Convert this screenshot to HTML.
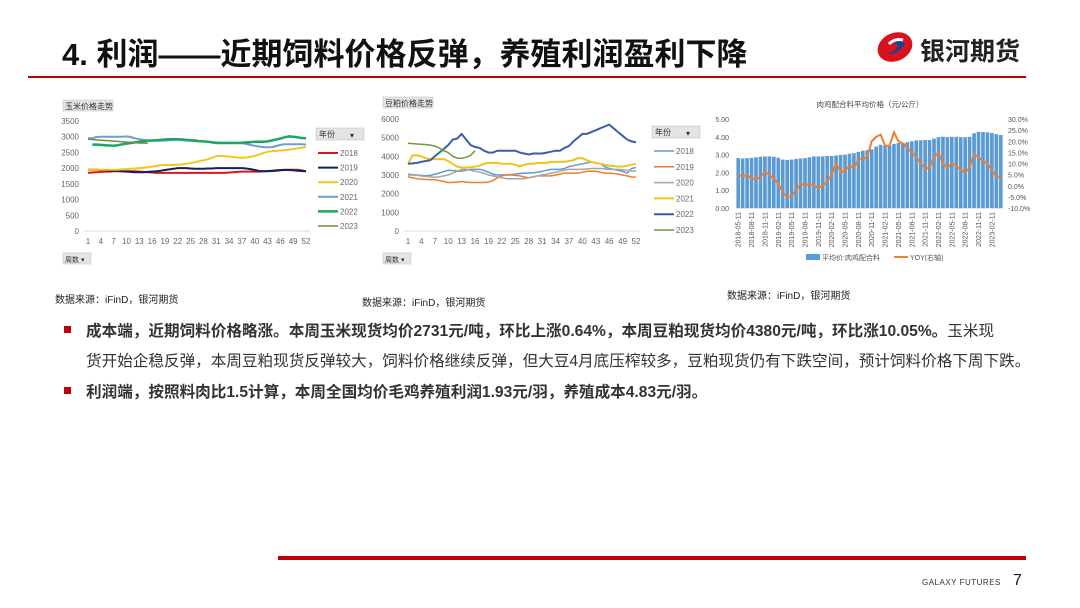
<!DOCTYPE html>
<html><head><meta charset="utf-8">
<style>
body{margin:0;width:1080px;height:608px;overflow:hidden;background:#fff;font-family:"Liberation Sans","Noto Sans CJK SC",sans-serif;position:relative}
.abs{position:absolute}
#title{left:62px;top:29px;font-size:31px;font-weight:bold;color:#111;white-space:nowrap}
.src{font-size:10px;color:#222;white-space:nowrap}
.bul{left:86px;font-size:15.6px;color:#333;white-space:nowrap}
.sq{width:7px;height:7px;background:#c00000;left:64px}
</style></head><body>
<div id="title" class="abs">4. 利润——近期饲料价格反弹，养殖利润盈利下降</div>
<div class="abs" style="left:875px;top:30px;width:40px;height:34px">
<svg width="40" height="34" viewBox="0 0 40 34"><ellipse cx="20" cy="17" rx="18" ry="14" fill="#d7141e" transform="rotate(-25 20 17)"/><path d="M10 22 Q20 28 30 14 Q25 8 17 12 Q26 14 20 20 Q14 24 10 22Z" fill="#1c3f94"/><path d="M14 14 Q20 8 28 10" stroke="#fff" stroke-width="3" fill="none"/></svg></div>
<div class="abs" style="left:920px;top:32px;font-size:25px;font-weight:bold;color:#222">银河期货</div>
<div class="abs" style="left:28px;top:76px;width:998px;height:2px;background:#c00000"></div>
<div class="abs" style="left:278px;top:556px;width:748px;height:4px;background:#c00000"></div>
<div class="abs" style="left:922px;top:578px;font-size:8px;color:#333;letter-spacing:0.5px">GALAXY FUTURES</div>
<div class="abs" style="left:1013px;top:572px;font-size:16px;color:#222">7</div>

<svg id="charts" class="abs" style="left:0;top:0" width="1080" height="300"></svg>

<div class="abs src" style="left:55px;top:291px">数据来源：iFinD，银河期货</div>
<div class="abs src" style="left:362px;top:294px">数据来源：iFinD，银河期货</div>
<div class="abs src" style="left:727px;top:287px">数据来源：iFinD，银河期货</div>

<div class="abs sq" style="top:326px"></div>
<div class="abs bul" style="top:319px"><b>成本端，近期饲料价格略涨。本周玉米现货均价2731元/吨，环比上涨0.64%，本周豆粕现货均价4380元/吨，环比涨10.05%。</b>玉米现</div>
<div class="abs bul" style="top:349px">货开始企稳反弹，本周豆粕现货反弹较大，饲料价格继续反弹，但大豆4月底压榨较多，豆粕现货仍有下跌空间，预计饲料价格下周下跌。</div>
<div class="abs sq" style="top:387px"></div>
<div class="abs bul" style="top:380px"><b>利润端，按照料肉比1.5计算，本周全国均价毛鸡养殖利润1.93元/羽，养殖成本4.83元/羽。</b></div>

<script>
const weeks = Array.from({length:52},(_,i)=>i+1);
const cornYears = ['2018','2019','2020','2021','2022','2023'];
const corn2018 = [1850,1860,1870,1880,1890,1890,1900,1900,1900,1900,1900,1900,1890,1880,1870,1860,1850,1850,1850,1850,1850,1850,1850,1850,1850,1850,1850,1850,1850,1850,1850,1850,1850,1860,1870,1880,1890,1890,1890,1890,1890,1900,1910,1920,1930,1940,1950,1950,1950,1950,1930,1900];
const corn2019 = [1950,1950,1950,1940,1930,1920,1920,1910,1900,1890,1880,1870,1870,1870,1880,1890,1900,1920,1940,1960,1980,2000,2000,2000,1990,1980,1980,1980,1990,1990,2000,2000,2000,2000,2000,2000,2000,1990,1970,1940,1910,1900,1900,1910,1920,1930,1940,1940,1930,1920,1910,1900];
const corn2020 = [1950,1950,1950,1950,1950,1950,1950,1950,1960,1970,1980,1990,2000,2010,2030,2050,2070,2090,2100,2100,2100,2110,2120,2140,2160,2190,2220,2250,2280,2330,2380,2390,2380,2370,2350,2340,2330,2340,2360,2390,2430,2480,2520,2540,2550,2560,2570,2590,2610,2630,2650,2670];
const corn2021 = [2950,2950,2990,3000,3000,3000,3000,3000,3000,3010,2990,2950,2920,2900,2880,2870,2870,2870,2880,2890,2900,2900,2890,2880,2870,2860,2850,2850,2840,2830,2820,2810,2810,2810,2810,2800,2790,2770,2740,2710,2690,2670,2660,2670,2700,2740,2760,2760,2760,2760,2760,2750];
const corn2022 = [null,2750,2750,2740,2730,2720,2710,2730,2760,2780,2800,2820,2840,2860,2870,2880,2890,2900,2910,2920,2920,2920,2910,2900,2890,2880,2860,2850,2840,2820,2800,2800,2800,2800,2800,2800,2810,2820,2830,2840,2840,2840,2850,2880,2910,2940,2980,3010,3000,2980,2960,2950];
const corn2023 = [2920,2910,2900,2890,2880,2870,2860,2850,2840,2830,2820,2810,2800,2800,2790,null,null,null,null,null,null,null,null,null,null,null,null,null,null,null,null,null,null,null,null,null,null,null,null,null,null,null,null,null,null,null,null,null,null,null,null,null];
const cornTicks = [0,500,1000,1500,2000,2500,3000,3500];
const mealYears = ['2018','2019','2020','2021','2022','2023'];
const meal2018 = [3050,3020,3000,2980,2960,2980,3050,3100,3180,3250,3240,3220,3200,3250,3300,3300,3300,3250,3150,3050,3000,3000,3000,3020,3050,3080,3100,3100,3120,3150,3200,3250,3300,3300,3300,3350,3450,3500,3550,3600,3650,3700,3650,3600,3450,3350,3300,3250,3200,3100,3350,3400];
const meal2019 = [2900,2850,2800,2780,2760,2750,2750,2700,2650,2600,2600,2620,2650,2620,2600,2600,2600,2600,2620,2700,2850,2950,3000,3000,2980,2950,2900,2850,2900,2950,2950,2950,2950,3000,3050,3100,3100,3100,3100,3150,3200,3200,3200,3150,3100,3100,3080,3050,3000,2950,2900,2880];
const meal2020 = [3000,3000,2980,2950,2920,2900,2880,2900,2950,3000,3100,3200,3300,3300,3250,3200,3150,3100,3000,2950,2900,2850,2800,2800,2800,2800,2800,2850,2900,2950,3000,3050,3100,3150,3200,3250,3300,3300,3300,3300,3320,3350,3350,3350,3330,3300,3300,3300,3280,3250,3220,3200];
const meal2021 = [3600,4050,4050,4000,3900,3850,3850,3850,3850,3750,3600,3450,3400,3400,3420,3450,3500,3600,3650,3650,3650,3600,3600,3600,3550,3450,3550,3600,3600,3650,3650,3650,3700,3700,3700,3700,3750,3800,3900,3900,3800,3700,3650,3600,3550,3500,3480,3450,3450,3500,3550,3600];
const meal2022 = [3600,3620,3650,3700,3750,3800,4000,4200,4400,4600,4900,4950,5200,4900,4600,4500,4450,4300,4200,4200,4300,4300,4300,4300,4300,4200,4150,4100,4150,4150,4150,4200,4250,4300,4300,4450,4550,4800,5000,5200,5200,5300,5400,5500,5600,5700,5500,5300,5100,4900,4800,4750];
const meal2023 = [4700,4680,4660,4650,4630,4600,4550,4450,4300,4200,4000,3900,3900,3950,4050,4300,null,null,null,null,null,null,null,null,null,null,null,null,null,null,null,null,null,null,null,null,null,null,null,null,null,null,null,null,null,null,null,null,null,null,null,null];
const mealTicks = [0,1000,2000,3000,4000,5000,6000];
const feedMonths = ['2018-05','2018-06','2018-07','2018-08','2018-09','2018-10','2018-11','2018-12','2019-01','2019-02','2019-03','2019-04','2019-05','2019-06','2019-07','2019-08','2019-09','2019-10','2019-11','2019-12','2020-01','2020-02','2020-03','2020-04','2020-05','2020-06','2020-07','2020-08','2020-09','2020-10','2020-11','2020-12','2021-01','2021-02','2021-03','2021-04','2021-05','2021-06','2021-07','2021-08','2021-09','2021-10','2021-11','2021-12','2022-01','2022-02','2022-03','2022-04','2022-05','2022-06','2022-07','2022-08','2022-09','2022-10','2022-11','2022-12','2023-01','2023-02','2023-03','2023-04'];
const feedPrice = [2.80,2.78,2.80,2.82,2.85,2.88,2.90,2.90,2.88,2.82,2.72,2.70,2.72,2.76,2.78,2.80,2.85,2.90,2.90,2.90,2.92,2.92,2.95,2.98,3.00,3.05,3.08,3.15,3.22,3.25,3.30,3.45,3.55,3.50,3.50,3.60,3.65,3.65,3.70,3.75,3.80,3.80,3.82,3.82,3.90,3.98,4.00,3.98,4.00,4.00,3.98,3.98,4.00,4.20,4.28,4.27,4.25,4.22,4.15,4.10];
const feedYoY = [5,4,5,3,3,4,6,5,3,1,-3,-5,-5,-2,1,0,1,0,-1,0,2,5,10,6,7,9,8,12,12,13,20,22,23,18,18,24,20,19,17,15,13,10,8,8,13,15,10,8,10,9,7,6,8,14,13,11,10,7,4,4];
const feedLeftTicks = [0,1,2,3,4,5];
const feedRightTicks = [-10,-5,0,5,10,15,20,25,30];

const NS='http://www.w3.org/2000/svg';
const svg=document.getElementById('charts');
function mk(tag,attrs,parent){const e=document.createElementNS(NS,tag);for(const k in attrs)e.setAttribute(k,attrs[k]);(parent||svg).appendChild(e);return e;}
function txt(s,x,y,size,fill,anchor,parent){const t=mk('text',{x:x,y:y,'font-size':size,fill:fill||'#555','text-anchor':anchor||'start','font-family':'Liberation Sans, Noto Sans CJK SC, sans-serif'},parent);t.textContent=s;return t;}
function pathFrom(vals,xf,yf){let d='',pen=false;vals.forEach((v,i)=>{if(v==null){pen=false;return;}d+=(pen?'L':'M')+xf(i).toFixed(1)+' '+yf(v).toFixed(1)+' ';pen=true;});return d;}

function lineChart(cfg){
  const g=mk('g',{});
  
  
  const xf=i=>cfg.x0+(cfg.x1-cfg.x0)*i/(weeks.length-1);
  const yf=v=>cfg.yb-(cfg.yb-cfg.yt)*v/cfg.ticks[cfg.ticks.length-1];
  const tb=mk('rect',{x:cfg.tx,y:cfg.ty,width:cfg.tw,height:11,fill:'#e4e4e4',stroke:'#bbb','stroke-width':0.5},g);
  
  
  txt(cfg.title,cfg.tx+2,cfg.ty+9,8,'#333','start',g);
  cfg.ticks.forEach(t=>{const l=txt(String(t),cfg.x0-9,yf(t)+3,8,'#666','end',g);});
  mk('line',{x1:cfg.x0-4,x2:cfg.x1+4,y1:cfg.yb,y2:cfg.yb,stroke:'#d9d9d9','stroke-width':1},g);
  weeks.forEach((w,i)=>{if(i%3===0){const l=txt(String(w),xf(i),cfg.yb+13,8,'#666','middle',g);}});
  cfg.series.forEach((s,k)=>{const p=mk('path',{d:pathFrom(s,xf,yf),fill:'none',stroke:cfg.colors[k],'stroke-width':cfg.widths[k],'stroke-linejoin':'round'},g);});
  const lb=mk('rect',{x:cfg.lx-2,y:cfg.ly-8,width:48,height:12,fill:'#e4e4e4',stroke:'#bbb','stroke-width':0.5},g);
  
  
  txt('年份',cfg.lx+1,cfg.ly+1,8,'#333','start',g);
  txt('▾',cfg.lx+32,cfg.ly+2,8,'#333','start',g);
  cfg.years.forEach((y,k)=>{const yy=cfg.ly+17+k*cfg.lstep;const e=mk('g',{},g);mk('line',{x1:cfg.lx,x2:cfg.lx+20,y1:yy,y2:yy,stroke:cfg.colors[k],'stroke-width':cfg.widths[k]},e);txt(y,cfg.lx+22,yy+3,8,'#666','start',e);});
  const wb=mk('rect',{x:cfg.tx,y:cfg.wy,width:28,height:11,fill:'#e4e4e4',stroke:'#bbb','stroke-width':0.5},g);
  
  
  txt('周数 ▾',cfg.tx+2,cfg.wy+9,7,'#333','start',g);
}
lineChart({name:'corn-price-chart',title:'玉米价格走势',tx:63,ty:100,tw:50,wy:253,x0:88,x1:306,yt:121,yb:231,ticks:cornTicks,
  series:[corn2018,corn2019,corn2020,corn2021,corn2022,corn2023],years:cornYears,
  colors:['#e3141c','#10205a','#f5c518','#6a9fd4','#1fa463','#6f8a3a'],widths:[2,2,2,2,2.5,1.5],lx:318,ly:136,lstep:14.6});
lineChart({name:'soymeal-price-chart',title:'豆粕价格走势',tx:383,ty:97,tw:50,wy:253,x0:408,x1:636,yt:119,yb:231,ticks:mealTicks,
  series:[meal2018,meal2019,meal2020,meal2021,meal2022,meal2023],years:mealYears,
  colors:['#5b9bd5','#ed7d31','#a5a5a5','#f2c318','#3d5ea8','#6d9a3f'],widths:[1.5,1.5,1.5,2,2,1.5],lx:654,ly:134,lstep:15.8});

(function(){
  const g=mk('g',{});
  
  
  const x0=736,x1=1003,yb=208,yt=119,n=feedMonths.length,bw=(x1-x0)/n;
  const xc=i=>x0+bw*(i+0.5);
  const yl=v=>yb-(yb-yt)*v/5;
  const yr=p=>yb-(yb-yt)*(p+10)/40;
  txt('肉鸡配合料平均价格（元/公斤）',870,107,7.5,'#444','middle',g);
  feedLeftTicks.forEach(t=>txt(t.toFixed(2),729,yl(t)+3,7,'#555','end',g));
  feedRightTicks.forEach(t=>txt(t.toFixed(1)+'%',1008,yr(t)+3,7,'#555','start',g));
  mk('line',{x1:x0,x2:x1,y1:yb,y2:yb,stroke:'#bbb','stroke-width':0.7},g);
  feedPrice.forEach((v,i)=>{const r=mk('rect',{x:x0+bw*i+0.4,y:yl(v),width:bw-0.8,height:yb-yl(v),fill:'#5b9bd5'},g);});
  const p=mk('path',{d:pathFrom(feedYoY,xc,yr),fill:'none',stroke:'#ed7d31','stroke-width':2},g);
  
  
  feedMonths.forEach((m,i)=>{if(i%3===0){const t=txt(m+'-11',0,0,7,'#555','end',g);t.setAttribute('transform','translate('+(xc(i)+2.5)+','+(yb+4)+') rotate(-90)');}});
  const lg=mk('g',{},g);
  mk('rect',{x:806,y:254,width:14,height:6,fill:'#5b9bd5'},lg);
  txt('平均价:肉鸡配合料',822,260,7,'#555','start',lg);
  mk('line',{x1:894,x2:908,y1:257,y2:257,stroke:'#ed7d31','stroke-width':2},lg);
  txt('YOY(右轴)',910,260,7,'#555','start',lg);
})();
</script>
</body></html>
